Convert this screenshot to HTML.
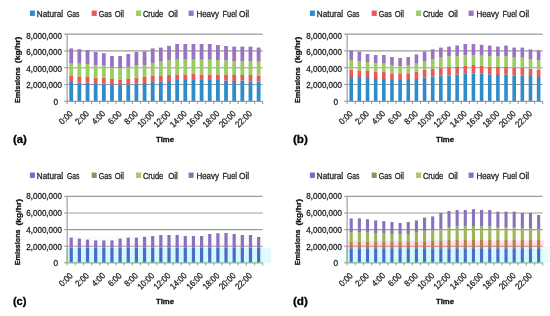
<!DOCTYPE html>
<html lang="en"><head><meta charset="utf-8"><title>Emissions by fuel type</title>
<style>html,body{margin:0;padding:0;background:#fff;}body{width:550px;height:316px;overflow:hidden;}svg{display:block;filter:blur(0.4px);}</style>
</head><body>
<svg width="550" height="316" viewBox="0 0 550 316" font-family='"Liberation Sans", sans-serif'>
<rect width="550" height="316" fill="#fff"/>
<g transform="translate(0 0)">
<line x1="64.15" y1="84.5" x2="67.15" y2="84.5" stroke="#9c9c9c" stroke-width="1.15"/>
<line x1="67.15" y1="84.5" x2="262.7" y2="84.5" stroke="#9c9c9c" stroke-width="1.15"/>
<line x1="64.15" y1="67.7" x2="67.15" y2="67.7" stroke="#9c9c9c" stroke-width="1.15"/>
<line x1="67.15" y1="67.7" x2="262.7" y2="67.7" stroke="#9c9c9c" stroke-width="1.15"/>
<line x1="64.15" y1="50.9" x2="67.15" y2="50.9" stroke="#9c9c9c" stroke-width="1.15"/>
<line x1="67.15" y1="50.9" x2="262.7" y2="50.9" stroke="#9c9c9c" stroke-width="1.15"/>
<line x1="64.15" y1="34.1" x2="67.15" y2="34.1" stroke="#9c9c9c" stroke-width="1.15"/>
<line x1="67.15" y1="34.1" x2="262.7" y2="34.1" stroke="#9c9c9c" stroke-width="1.15"/>
<rect x="69.32" y="82" width="3.8" height="19.3" fill="#2f8ccb"/>
<rect x="69.32" y="76" width="3.8" height="6" fill="#e85a57"/>
<rect x="69.32" y="63.6" width="3.8" height="12.4" fill="#9ccb62"/>
<rect x="69.32" y="48.4" width="3.8" height="15.2" fill="#9b73c3"/>
<rect x="77.47" y="82.6" width="3.8" height="18.7" fill="#2f8ccb"/>
<rect x="77.47" y="76.4" width="3.8" height="6.2" fill="#e85a57"/>
<rect x="77.47" y="63.6" width="3.8" height="12.8" fill="#9ccb62"/>
<rect x="77.47" y="49.2" width="3.8" height="14.4" fill="#9b73c3"/>
<rect x="85.62" y="82.6" width="3.8" height="18.7" fill="#2f8ccb"/>
<rect x="85.62" y="77" width="3.8" height="5.6" fill="#e85a57"/>
<rect x="85.62" y="64" width="3.8" height="13" fill="#9ccb62"/>
<rect x="85.62" y="50" width="3.8" height="14" fill="#9b73c3"/>
<rect x="93.77" y="83.2" width="3.8" height="18.1" fill="#2f8ccb"/>
<rect x="93.77" y="77.6" width="3.8" height="5.6" fill="#e85a57"/>
<rect x="93.77" y="65" width="3.8" height="12.6" fill="#9ccb62"/>
<rect x="93.77" y="52" width="3.8" height="13" fill="#9b73c3"/>
<rect x="101.92" y="83.6" width="3.8" height="17.7" fill="#2f8ccb"/>
<rect x="101.92" y="77.6" width="3.8" height="6" fill="#e85a57"/>
<rect x="101.92" y="65.6" width="3.8" height="12" fill="#9ccb62"/>
<rect x="101.92" y="53.2" width="3.8" height="12.4" fill="#9b73c3"/>
<rect x="110.06" y="84.4" width="3.8" height="16.9" fill="#2f8ccb"/>
<rect x="110.06" y="79" width="3.8" height="5.4" fill="#e85a57"/>
<rect x="110.06" y="67.6" width="3.8" height="11.4" fill="#9ccb62"/>
<rect x="110.06" y="56" width="3.8" height="11.6" fill="#9b73c3"/>
<rect x="118.21" y="84.4" width="3.8" height="16.9" fill="#2f8ccb"/>
<rect x="118.21" y="79.6" width="3.8" height="4.8" fill="#e85a57"/>
<rect x="118.21" y="68" width="3.8" height="11.6" fill="#9ccb62"/>
<rect x="118.21" y="56" width="3.8" height="12" fill="#9b73c3"/>
<rect x="126.36" y="84.4" width="3.8" height="16.9" fill="#2f8ccb"/>
<rect x="126.36" y="79" width="3.8" height="5.4" fill="#e85a57"/>
<rect x="126.36" y="67" width="3.8" height="12" fill="#9ccb62"/>
<rect x="126.36" y="54" width="3.8" height="13" fill="#9b73c3"/>
<rect x="134.51" y="83.6" width="3.8" height="17.7" fill="#2f8ccb"/>
<rect x="134.51" y="77.6" width="3.8" height="6" fill="#e85a57"/>
<rect x="134.51" y="65.6" width="3.8" height="12" fill="#9ccb62"/>
<rect x="134.51" y="52" width="3.8" height="13.6" fill="#9b73c3"/>
<rect x="142.66" y="83" width="3.8" height="18.3" fill="#2f8ccb"/>
<rect x="142.66" y="77" width="3.8" height="6" fill="#e85a57"/>
<rect x="142.66" y="65" width="3.8" height="12" fill="#9ccb62"/>
<rect x="142.66" y="51.4" width="3.8" height="13.6" fill="#9b73c3"/>
<rect x="150.8" y="82" width="3.8" height="19.3" fill="#2f8ccb"/>
<rect x="150.8" y="76" width="3.8" height="6" fill="#e85a57"/>
<rect x="150.8" y="63" width="3.8" height="13" fill="#9ccb62"/>
<rect x="150.8" y="48.4" width="3.8" height="14.6" fill="#9b73c3"/>
<rect x="158.95" y="81.6" width="3.8" height="19.7" fill="#2f8ccb"/>
<rect x="158.95" y="75.4" width="3.8" height="6.2" fill="#e85a57"/>
<rect x="158.95" y="61.6" width="3.8" height="13.8" fill="#9ccb62"/>
<rect x="158.95" y="47.6" width="3.8" height="14" fill="#9b73c3"/>
<rect x="167.1" y="81" width="3.8" height="20.3" fill="#2f8ccb"/>
<rect x="167.1" y="74.7" width="3.8" height="6.3" fill="#e85a57"/>
<rect x="167.1" y="60.2" width="3.8" height="14.5" fill="#9ccb62"/>
<rect x="167.1" y="45.8" width="3.8" height="14.4" fill="#9b73c3"/>
<rect x="175.25" y="80" width="3.8" height="21.3" fill="#2f8ccb"/>
<rect x="175.25" y="74.4" width="3.8" height="5.6" fill="#e85a57"/>
<rect x="175.25" y="59.6" width="3.8" height="14.8" fill="#9ccb62"/>
<rect x="175.25" y="44" width="3.8" height="15.6" fill="#9b73c3"/>
<rect x="183.39" y="80" width="3.8" height="21.3" fill="#2f8ccb"/>
<rect x="183.39" y="74.4" width="3.8" height="5.6" fill="#e85a57"/>
<rect x="183.39" y="59.6" width="3.8" height="14.8" fill="#9ccb62"/>
<rect x="183.39" y="44" width="3.8" height="15.6" fill="#9b73c3"/>
<rect x="191.54" y="80" width="3.8" height="21.3" fill="#2f8ccb"/>
<rect x="191.54" y="73.6" width="3.8" height="6.4" fill="#e85a57"/>
<rect x="191.54" y="59.6" width="3.8" height="14" fill="#9ccb62"/>
<rect x="191.54" y="44" width="3.8" height="15.6" fill="#9b73c3"/>
<rect x="199.69" y="80" width="3.8" height="21.3" fill="#2f8ccb"/>
<rect x="199.69" y="74.4" width="3.8" height="5.6" fill="#e85a57"/>
<rect x="199.69" y="59.6" width="3.8" height="14.8" fill="#9ccb62"/>
<rect x="199.69" y="44" width="3.8" height="15.6" fill="#9b73c3"/>
<rect x="207.84" y="80" width="3.8" height="21.3" fill="#2f8ccb"/>
<rect x="207.84" y="74.4" width="3.8" height="5.6" fill="#e85a57"/>
<rect x="207.84" y="59.6" width="3.8" height="14.8" fill="#9ccb62"/>
<rect x="207.84" y="44" width="3.8" height="15.6" fill="#9b73c3"/>
<rect x="215.99" y="80" width="3.8" height="21.3" fill="#2f8ccb"/>
<rect x="215.99" y="74.4" width="3.8" height="5.6" fill="#e85a57"/>
<rect x="215.99" y="60" width="3.8" height="14.4" fill="#9ccb62"/>
<rect x="215.99" y="45" width="3.8" height="15" fill="#9b73c3"/>
<rect x="224.13" y="80.6" width="3.8" height="20.7" fill="#2f8ccb"/>
<rect x="224.13" y="74.4" width="3.8" height="6.2" fill="#e85a57"/>
<rect x="224.13" y="60.4" width="3.8" height="14" fill="#9ccb62"/>
<rect x="224.13" y="46" width="3.8" height="14.4" fill="#9b73c3"/>
<rect x="232.28" y="81" width="3.8" height="20.3" fill="#2f8ccb"/>
<rect x="232.28" y="75" width="3.8" height="6" fill="#e85a57"/>
<rect x="232.28" y="61" width="3.8" height="14" fill="#9ccb62"/>
<rect x="232.28" y="46.6" width="3.8" height="14.4" fill="#9b73c3"/>
<rect x="240.43" y="80.6" width="3.8" height="20.7" fill="#2f8ccb"/>
<rect x="240.43" y="75" width="3.8" height="5.6" fill="#e85a57"/>
<rect x="240.43" y="61" width="3.8" height="14" fill="#9ccb62"/>
<rect x="240.43" y="46.6" width="3.8" height="14.4" fill="#9b73c3"/>
<rect x="248.58" y="81.4" width="3.8" height="19.9" fill="#2f8ccb"/>
<rect x="248.58" y="75" width="3.8" height="6.4" fill="#e85a57"/>
<rect x="248.58" y="61" width="3.8" height="14" fill="#9ccb62"/>
<rect x="248.58" y="46.6" width="3.8" height="14.4" fill="#9b73c3"/>
<rect x="256.73" y="81.6" width="3.8" height="19.7" fill="#2f8ccb"/>
<rect x="256.73" y="75.6" width="3.8" height="6" fill="#e85a57"/>
<rect x="256.73" y="61.6" width="3.8" height="14" fill="#9ccb62"/>
<rect x="256.73" y="47.6" width="3.8" height="14" fill="#9b73c3"/>
<line x1="67.15" y1="34.1" x2="67.15" y2="101.3" stroke="#9c9c9c" stroke-width="1.15"/>
<line x1="64.15" y1="101.3" x2="67.15" y2="101.3" stroke="#9c9c9c" stroke-width="1.15"/>
<line x1="67.15" y1="101.3" x2="262.7" y2="101.3" stroke="#9c9c9c" stroke-width="1.15"/>
<line x1="67.15" y1="101.3" x2="67.15" y2="103.9" stroke="#9c9c9c" stroke-width="1.15"/>
<line x1="75.3" y1="101.3" x2="75.3" y2="103.9" stroke="#9c9c9c" stroke-width="1.15"/>
<line x1="83.45" y1="101.3" x2="83.45" y2="103.9" stroke="#9c9c9c" stroke-width="1.15"/>
<line x1="91.59" y1="101.3" x2="91.59" y2="103.9" stroke="#9c9c9c" stroke-width="1.15"/>
<line x1="99.74" y1="101.3" x2="99.74" y2="103.9" stroke="#9c9c9c" stroke-width="1.15"/>
<line x1="107.89" y1="101.3" x2="107.89" y2="103.9" stroke="#9c9c9c" stroke-width="1.15"/>
<line x1="116.04" y1="101.3" x2="116.04" y2="103.9" stroke="#9c9c9c" stroke-width="1.15"/>
<line x1="124.19" y1="101.3" x2="124.19" y2="103.9" stroke="#9c9c9c" stroke-width="1.15"/>
<line x1="132.33" y1="101.3" x2="132.33" y2="103.9" stroke="#9c9c9c" stroke-width="1.15"/>
<line x1="140.48" y1="101.3" x2="140.48" y2="103.9" stroke="#9c9c9c" stroke-width="1.15"/>
<line x1="148.63" y1="101.3" x2="148.63" y2="103.9" stroke="#9c9c9c" stroke-width="1.15"/>
<line x1="156.78" y1="101.3" x2="156.78" y2="103.9" stroke="#9c9c9c" stroke-width="1.15"/>
<line x1="164.92" y1="101.3" x2="164.92" y2="103.9" stroke="#9c9c9c" stroke-width="1.15"/>
<line x1="173.07" y1="101.3" x2="173.07" y2="103.9" stroke="#9c9c9c" stroke-width="1.15"/>
<line x1="181.22" y1="101.3" x2="181.22" y2="103.9" stroke="#9c9c9c" stroke-width="1.15"/>
<line x1="189.37" y1="101.3" x2="189.37" y2="103.9" stroke="#9c9c9c" stroke-width="1.15"/>
<line x1="197.52" y1="101.3" x2="197.52" y2="103.9" stroke="#9c9c9c" stroke-width="1.15"/>
<line x1="205.66" y1="101.3" x2="205.66" y2="103.9" stroke="#9c9c9c" stroke-width="1.15"/>
<line x1="213.81" y1="101.3" x2="213.81" y2="103.9" stroke="#9c9c9c" stroke-width="1.15"/>
<line x1="221.96" y1="101.3" x2="221.96" y2="103.9" stroke="#9c9c9c" stroke-width="1.15"/>
<line x1="230.11" y1="101.3" x2="230.11" y2="103.9" stroke="#9c9c9c" stroke-width="1.15"/>
<line x1="238.26" y1="101.3" x2="238.26" y2="103.9" stroke="#9c9c9c" stroke-width="1.15"/>
<line x1="246.4" y1="101.3" x2="246.4" y2="103.9" stroke="#9c9c9c" stroke-width="1.15"/>
<line x1="254.55" y1="101.3" x2="254.55" y2="103.9" stroke="#9c9c9c" stroke-width="1.15"/>
<line x1="262.7" y1="101.3" x2="262.7" y2="103.9" stroke="#9c9c9c" stroke-width="1.15"/>
<text x="58.1" y="104.6" font-size="8.3" text-anchor="end" fill="#242424" stroke="#242424" stroke-width="0.28">0</text>
<text x="62" y="88.11" font-size="8.3" text-anchor="end" textLength="35.7" lengthAdjust="spacingAndGlyphs" fill="#242424" stroke="#242424" stroke-width="0.28">2,000,000</text>
<text x="62" y="71.63" font-size="8.3" text-anchor="end" textLength="35.7" lengthAdjust="spacingAndGlyphs" fill="#242424" stroke="#242424" stroke-width="0.28">4,000,000</text>
<text x="62" y="55.14" font-size="8.3" text-anchor="end" textLength="35.7" lengthAdjust="spacingAndGlyphs" fill="#242424" stroke="#242424" stroke-width="0.28">6,000,000</text>
<text x="62" y="38.65" font-size="8.3" text-anchor="end" textLength="35.7" lengthAdjust="spacingAndGlyphs" fill="#242424" stroke="#242424" stroke-width="0.28">8,000,000</text>
<text x="73.32" y="114.3" font-size="8.8" text-anchor="end" textLength="15.2" lengthAdjust="spacingAndGlyphs" transform="rotate(-45 73.32 114.3)" fill="#242424" stroke="#242424" stroke-width="0.28">0:00</text>
<text x="89.62" y="114.3" font-size="8.8" text-anchor="end" textLength="15.2" lengthAdjust="spacingAndGlyphs" transform="rotate(-45 89.62 114.3)" fill="#242424" stroke="#242424" stroke-width="0.28">2:00</text>
<text x="105.92" y="114.3" font-size="8.8" text-anchor="end" textLength="15.2" lengthAdjust="spacingAndGlyphs" transform="rotate(-45 105.92 114.3)" fill="#242424" stroke="#242424" stroke-width="0.28">4:00</text>
<text x="122.21" y="114.3" font-size="8.8" text-anchor="end" textLength="15.2" lengthAdjust="spacingAndGlyphs" transform="rotate(-45 122.21 114.3)" fill="#242424" stroke="#242424" stroke-width="0.28">6:00</text>
<text x="138.51" y="114.3" font-size="8.8" text-anchor="end" textLength="15.2" lengthAdjust="spacingAndGlyphs" transform="rotate(-45 138.51 114.3)" fill="#242424" stroke="#242424" stroke-width="0.28">8:00</text>
<text x="154.8" y="114.3" font-size="8.8" text-anchor="end" textLength="19.5" lengthAdjust="spacingAndGlyphs" transform="rotate(-45 154.8 114.3)" fill="#242424" stroke="#242424" stroke-width="0.28">10:00</text>
<text x="171.1" y="114.3" font-size="8.8" text-anchor="end" textLength="19.5" lengthAdjust="spacingAndGlyphs" transform="rotate(-45 171.1 114.3)" fill="#242424" stroke="#242424" stroke-width="0.28">12:00</text>
<text x="187.39" y="114.3" font-size="8.8" text-anchor="end" textLength="19.5" lengthAdjust="spacingAndGlyphs" transform="rotate(-45 187.39 114.3)" fill="#242424" stroke="#242424" stroke-width="0.28">14:00</text>
<text x="203.69" y="114.3" font-size="8.8" text-anchor="end" textLength="19.5" lengthAdjust="spacingAndGlyphs" transform="rotate(-45 203.69 114.3)" fill="#242424" stroke="#242424" stroke-width="0.28">16:00</text>
<text x="219.99" y="114.3" font-size="8.8" text-anchor="end" textLength="19.5" lengthAdjust="spacingAndGlyphs" transform="rotate(-45 219.99 114.3)" fill="#242424" stroke="#242424" stroke-width="0.28">18:00</text>
<text x="236.28" y="114.3" font-size="8.8" text-anchor="end" textLength="19.5" lengthAdjust="spacingAndGlyphs" transform="rotate(-45 236.28 114.3)" fill="#242424" stroke="#242424" stroke-width="0.28">20:00</text>
<text x="252.58" y="114.3" font-size="8.8" text-anchor="end" textLength="19.5" lengthAdjust="spacingAndGlyphs" transform="rotate(-45 252.58 114.3)" fill="#242424" stroke="#242424" stroke-width="0.28">22:00</text>
<text x="20.5" y="102.9" font-size="8.1" font-weight="bold" textLength="35.7" lengthAdjust="spacingAndGlyphs" transform="rotate(-90 20.5 102.9)" fill="#111" stroke="#111" stroke-width="0.28">Emissions</text>
<text x="20.5" y="63.2" font-size="8.1" font-weight="bold" textLength="26.6" lengthAdjust="spacingAndGlyphs" transform="rotate(-90 20.5 63.2)" fill="#111" stroke="#111" stroke-width="0.28">(kg/hr)</text>
<text x="156.1" y="142.4" font-size="7.8" font-weight="bold" textLength="17.9" lengthAdjust="spacingAndGlyphs" fill="#111" stroke="#111" stroke-width="0.28">Time</text>
<text x="12.9" y="143" font-size="11.2" font-weight="bold" textLength="14" lengthAdjust="spacingAndGlyphs" fill="#000" stroke="#000" stroke-width="0.28">(a)</text>
<rect x="29.9" y="10.55" width="5" height="5.4" fill="#2f8ccb"/>
<text y="16.5" font-size="8.2" fill="#242424" stroke="#242424" stroke-width="0.28"><tspan x="36.8" textLength="26.4" lengthAdjust="spacingAndGlyphs">Natural</tspan> <tspan x="67" textLength="12.5" lengthAdjust="spacingAndGlyphs">Gas</tspan></text>
<rect x="91.7" y="10.55" width="5" height="5.4" fill="#e85a57"/>
<text y="16.5" font-size="8.2" fill="#242424" stroke="#242424" stroke-width="0.28"><tspan x="98.7" textLength="13.1" lengthAdjust="spacingAndGlyphs">Gas</tspan> <tspan x="114.7" textLength="9.3" lengthAdjust="spacingAndGlyphs">Oil</tspan></text>
<rect x="136.1" y="10.55" width="5" height="5.4" fill="#9ccb62"/>
<text y="16.5" font-size="8.2" fill="#242424" stroke="#242424" stroke-width="0.28"><tspan x="142.9" textLength="20.4" lengthAdjust="spacingAndGlyphs">Crude</tspan> <tspan x="168.2" textLength="9.6" lengthAdjust="spacingAndGlyphs">Oil</tspan></text>
<rect x="188.6" y="10.55" width="5" height="5.4" fill="#9b73c3"/>
<text y="16.5" font-size="8.2" fill="#242424" stroke="#242424" stroke-width="0.28"><tspan x="196.4" textLength="22.7" lengthAdjust="spacingAndGlyphs">Heavy</tspan> <tspan x="222.6" textLength="14.4" lengthAdjust="spacingAndGlyphs">Fuel</tspan> <tspan x="239" textLength="10.2" lengthAdjust="spacingAndGlyphs">Oil</tspan></text>
</g>
<g transform="translate(280 0)">
<line x1="64.15" y1="84.5" x2="67.15" y2="84.5" stroke="#9c9c9c" stroke-width="1.15"/>
<line x1="67.15" y1="84.5" x2="262.7" y2="84.5" stroke="#9c9c9c" stroke-width="1.15"/>
<line x1="64.15" y1="67.7" x2="67.15" y2="67.7" stroke="#9c9c9c" stroke-width="1.15"/>
<line x1="67.15" y1="67.7" x2="262.7" y2="67.7" stroke="#9c9c9c" stroke-width="1.15"/>
<line x1="64.15" y1="50.9" x2="67.15" y2="50.9" stroke="#9c9c9c" stroke-width="1.15"/>
<line x1="67.15" y1="50.9" x2="262.7" y2="50.9" stroke="#9c9c9c" stroke-width="1.15"/>
<line x1="64.15" y1="34.1" x2="67.15" y2="34.1" stroke="#9c9c9c" stroke-width="1.15"/>
<line x1="67.15" y1="34.1" x2="262.7" y2="34.1" stroke="#9c9c9c" stroke-width="1.15"/>
<rect x="69.42" y="77" width="3.6" height="24.3" fill="#2f8ccb"/>
<rect x="69.42" y="69.6" width="3.6" height="7.4" fill="#e85a57"/>
<rect x="69.42" y="60" width="3.6" height="9.6" fill="#9ccb62"/>
<rect x="69.42" y="50.4" width="3.6" height="9.6" fill="#9b73c3"/>
<rect x="77.57" y="77" width="3.6" height="24.3" fill="#2f8ccb"/>
<rect x="77.57" y="70.4" width="3.6" height="6.6" fill="#e85a57"/>
<rect x="77.57" y="61" width="3.6" height="9.4" fill="#9ccb62"/>
<rect x="77.57" y="51.6" width="3.6" height="9.4" fill="#9b73c3"/>
<rect x="85.72" y="78" width="3.6" height="23.3" fill="#2f8ccb"/>
<rect x="85.72" y="71" width="3.6" height="7" fill="#e85a57"/>
<rect x="85.72" y="62" width="3.6" height="9" fill="#9ccb62"/>
<rect x="85.72" y="54" width="3.6" height="8" fill="#9b73c3"/>
<rect x="93.87" y="79" width="3.6" height="22.3" fill="#2f8ccb"/>
<rect x="93.87" y="72" width="3.6" height="7" fill="#e85a57"/>
<rect x="93.87" y="63" width="3.6" height="9" fill="#9ccb62"/>
<rect x="93.87" y="55" width="3.6" height="8" fill="#9b73c3"/>
<rect x="102.02" y="79" width="3.6" height="22.3" fill="#2f8ccb"/>
<rect x="102.02" y="72" width="3.6" height="7" fill="#e85a57"/>
<rect x="102.02" y="63.6" width="3.6" height="8.4" fill="#9ccb62"/>
<rect x="102.02" y="55" width="3.6" height="8.6" fill="#9b73c3"/>
<rect x="110.16" y="80" width="3.6" height="21.3" fill="#2f8ccb"/>
<rect x="110.16" y="73.4" width="3.6" height="6.6" fill="#e85a57"/>
<rect x="110.16" y="65" width="3.6" height="8.4" fill="#9ccb62"/>
<rect x="110.16" y="57" width="3.6" height="8" fill="#9b73c3"/>
<rect x="118.31" y="80" width="3.6" height="21.3" fill="#2f8ccb"/>
<rect x="118.31" y="74" width="3.6" height="6" fill="#e85a57"/>
<rect x="118.31" y="66" width="3.6" height="8" fill="#9ccb62"/>
<rect x="118.31" y="58" width="3.6" height="8" fill="#9b73c3"/>
<rect x="126.46" y="80" width="3.6" height="21.3" fill="#2f8ccb"/>
<rect x="126.46" y="73.4" width="3.6" height="6.6" fill="#e85a57"/>
<rect x="126.46" y="65" width="3.6" height="8.4" fill="#9ccb62"/>
<rect x="126.46" y="57" width="3.6" height="8" fill="#9b73c3"/>
<rect x="134.61" y="79" width="3.6" height="22.3" fill="#2f8ccb"/>
<rect x="134.61" y="71.6" width="3.6" height="7.4" fill="#e85a57"/>
<rect x="134.61" y="63.6" width="3.6" height="8" fill="#9ccb62"/>
<rect x="134.61" y="54.4" width="3.6" height="9.2" fill="#9b73c3"/>
<rect x="142.76" y="77.4" width="3.6" height="23.9" fill="#2f8ccb"/>
<rect x="142.76" y="70" width="3.6" height="7.4" fill="#e85a57"/>
<rect x="142.76" y="61" width="3.6" height="9" fill="#9ccb62"/>
<rect x="142.76" y="51.6" width="3.6" height="9.4" fill="#9b73c3"/>
<rect x="150.9" y="76.4" width="3.6" height="24.9" fill="#2f8ccb"/>
<rect x="150.9" y="69" width="3.6" height="7.4" fill="#e85a57"/>
<rect x="150.9" y="59" width="3.6" height="10" fill="#9ccb62"/>
<rect x="150.9" y="49.4" width="3.6" height="9.6" fill="#9b73c3"/>
<rect x="159.05" y="75.4" width="3.6" height="25.9" fill="#2f8ccb"/>
<rect x="159.05" y="68" width="3.6" height="7.4" fill="#e85a57"/>
<rect x="159.05" y="57.6" width="3.6" height="10.4" fill="#9ccb62"/>
<rect x="159.05" y="47.6" width="3.6" height="10" fill="#9b73c3"/>
<rect x="167.2" y="75.4" width="3.6" height="25.9" fill="#2f8ccb"/>
<rect x="167.2" y="67.2" width="3.6" height="8.2" fill="#e85a57"/>
<rect x="167.2" y="56.4" width="3.6" height="10.8" fill="#9ccb62"/>
<rect x="167.2" y="46.6" width="3.6" height="9.8" fill="#9b73c3"/>
<rect x="175.35" y="74.4" width="3.6" height="26.9" fill="#2f8ccb"/>
<rect x="175.35" y="67" width="3.6" height="7.4" fill="#e85a57"/>
<rect x="175.35" y="56" width="3.6" height="11" fill="#9ccb62"/>
<rect x="175.35" y="45.4" width="3.6" height="10.6" fill="#9b73c3"/>
<rect x="183.49" y="73.6" width="3.6" height="27.7" fill="#2f8ccb"/>
<rect x="183.49" y="66" width="3.6" height="7.6" fill="#e85a57"/>
<rect x="183.49" y="55" width="3.6" height="11" fill="#9ccb62"/>
<rect x="183.49" y="44" width="3.6" height="11" fill="#9b73c3"/>
<rect x="191.64" y="73.6" width="3.6" height="27.7" fill="#2f8ccb"/>
<rect x="191.64" y="65" width="3.6" height="8.6" fill="#e85a57"/>
<rect x="191.64" y="55" width="3.6" height="10" fill="#9ccb62"/>
<rect x="191.64" y="44" width="3.6" height="11" fill="#9b73c3"/>
<rect x="199.79" y="73.6" width="3.6" height="27.7" fill="#2f8ccb"/>
<rect x="199.79" y="66" width="3.6" height="7.6" fill="#e85a57"/>
<rect x="199.79" y="55.6" width="3.6" height="10.4" fill="#9ccb62"/>
<rect x="199.79" y="44.8" width="3.6" height="10.8" fill="#9b73c3"/>
<rect x="207.94" y="74.4" width="3.6" height="26.9" fill="#2f8ccb"/>
<rect x="207.94" y="66.6" width="3.6" height="7.8" fill="#e85a57"/>
<rect x="207.94" y="56" width="3.6" height="10.6" fill="#9ccb62"/>
<rect x="207.94" y="45.6" width="3.6" height="10.4" fill="#9b73c3"/>
<rect x="216.09" y="75" width="3.6" height="26.3" fill="#2f8ccb"/>
<rect x="216.09" y="67" width="3.6" height="8" fill="#e85a57"/>
<rect x="216.09" y="56.4" width="3.6" height="10.6" fill="#9ccb62"/>
<rect x="216.09" y="46.6" width="3.6" height="9.8" fill="#9b73c3"/>
<rect x="224.23" y="74.4" width="3.6" height="26.9" fill="#2f8ccb"/>
<rect x="224.23" y="67" width="3.6" height="7.4" fill="#e85a57"/>
<rect x="224.23" y="56" width="3.6" height="11" fill="#9ccb62"/>
<rect x="224.23" y="45.6" width="3.6" height="10.4" fill="#9b73c3"/>
<rect x="232.38" y="75.4" width="3.6" height="25.9" fill="#2f8ccb"/>
<rect x="232.38" y="67.6" width="3.6" height="7.8" fill="#e85a57"/>
<rect x="232.38" y="57.6" width="3.6" height="10" fill="#9ccb62"/>
<rect x="232.38" y="47.6" width="3.6" height="10" fill="#9b73c3"/>
<rect x="240.53" y="75.4" width="3.6" height="25.9" fill="#2f8ccb"/>
<rect x="240.53" y="67.6" width="3.6" height="7.8" fill="#e85a57"/>
<rect x="240.53" y="57.6" width="3.6" height="10" fill="#9ccb62"/>
<rect x="240.53" y="47.6" width="3.6" height="10" fill="#9b73c3"/>
<rect x="248.68" y="76" width="3.6" height="25.3" fill="#2f8ccb"/>
<rect x="248.68" y="68.6" width="3.6" height="7.4" fill="#e85a57"/>
<rect x="248.68" y="59" width="3.6" height="9.6" fill="#9ccb62"/>
<rect x="248.68" y="49.4" width="3.6" height="9.6" fill="#9b73c3"/>
<rect x="256.83" y="77" width="3.6" height="24.3" fill="#2f8ccb"/>
<rect x="256.83" y="69.6" width="3.6" height="7.4" fill="#e85a57"/>
<rect x="256.83" y="60" width="3.6" height="9.6" fill="#9ccb62"/>
<rect x="256.83" y="50.4" width="3.6" height="9.6" fill="#9b73c3"/>
<line x1="67.15" y1="34.1" x2="67.15" y2="101.3" stroke="#9c9c9c" stroke-width="1.15"/>
<line x1="64.15" y1="101.3" x2="67.15" y2="101.3" stroke="#9c9c9c" stroke-width="1.15"/>
<line x1="67.15" y1="101.3" x2="262.7" y2="101.3" stroke="#9c9c9c" stroke-width="1.15"/>
<line x1="67.15" y1="101.3" x2="67.15" y2="103.9" stroke="#9c9c9c" stroke-width="1.15"/>
<line x1="75.3" y1="101.3" x2="75.3" y2="103.9" stroke="#9c9c9c" stroke-width="1.15"/>
<line x1="83.45" y1="101.3" x2="83.45" y2="103.9" stroke="#9c9c9c" stroke-width="1.15"/>
<line x1="91.59" y1="101.3" x2="91.59" y2="103.9" stroke="#9c9c9c" stroke-width="1.15"/>
<line x1="99.74" y1="101.3" x2="99.74" y2="103.9" stroke="#9c9c9c" stroke-width="1.15"/>
<line x1="107.89" y1="101.3" x2="107.89" y2="103.9" stroke="#9c9c9c" stroke-width="1.15"/>
<line x1="116.04" y1="101.3" x2="116.04" y2="103.9" stroke="#9c9c9c" stroke-width="1.15"/>
<line x1="124.19" y1="101.3" x2="124.19" y2="103.9" stroke="#9c9c9c" stroke-width="1.15"/>
<line x1="132.33" y1="101.3" x2="132.33" y2="103.9" stroke="#9c9c9c" stroke-width="1.15"/>
<line x1="140.48" y1="101.3" x2="140.48" y2="103.9" stroke="#9c9c9c" stroke-width="1.15"/>
<line x1="148.63" y1="101.3" x2="148.63" y2="103.9" stroke="#9c9c9c" stroke-width="1.15"/>
<line x1="156.78" y1="101.3" x2="156.78" y2="103.9" stroke="#9c9c9c" stroke-width="1.15"/>
<line x1="164.92" y1="101.3" x2="164.92" y2="103.9" stroke="#9c9c9c" stroke-width="1.15"/>
<line x1="173.07" y1="101.3" x2="173.07" y2="103.9" stroke="#9c9c9c" stroke-width="1.15"/>
<line x1="181.22" y1="101.3" x2="181.22" y2="103.9" stroke="#9c9c9c" stroke-width="1.15"/>
<line x1="189.37" y1="101.3" x2="189.37" y2="103.9" stroke="#9c9c9c" stroke-width="1.15"/>
<line x1="197.52" y1="101.3" x2="197.52" y2="103.9" stroke="#9c9c9c" stroke-width="1.15"/>
<line x1="205.66" y1="101.3" x2="205.66" y2="103.9" stroke="#9c9c9c" stroke-width="1.15"/>
<line x1="213.81" y1="101.3" x2="213.81" y2="103.9" stroke="#9c9c9c" stroke-width="1.15"/>
<line x1="221.96" y1="101.3" x2="221.96" y2="103.9" stroke="#9c9c9c" stroke-width="1.15"/>
<line x1="230.11" y1="101.3" x2="230.11" y2="103.9" stroke="#9c9c9c" stroke-width="1.15"/>
<line x1="238.26" y1="101.3" x2="238.26" y2="103.9" stroke="#9c9c9c" stroke-width="1.15"/>
<line x1="246.4" y1="101.3" x2="246.4" y2="103.9" stroke="#9c9c9c" stroke-width="1.15"/>
<line x1="254.55" y1="101.3" x2="254.55" y2="103.9" stroke="#9c9c9c" stroke-width="1.15"/>
<line x1="262.7" y1="101.3" x2="262.7" y2="103.9" stroke="#9c9c9c" stroke-width="1.15"/>
<text x="58.1" y="104.6" font-size="8.3" text-anchor="end" fill="#242424" stroke="#242424" stroke-width="0.28">0</text>
<text x="62" y="88.11" font-size="8.3" text-anchor="end" textLength="35.7" lengthAdjust="spacingAndGlyphs" fill="#242424" stroke="#242424" stroke-width="0.28">2,000,000</text>
<text x="62" y="71.63" font-size="8.3" text-anchor="end" textLength="35.7" lengthAdjust="spacingAndGlyphs" fill="#242424" stroke="#242424" stroke-width="0.28">4,000,000</text>
<text x="62" y="55.14" font-size="8.3" text-anchor="end" textLength="35.7" lengthAdjust="spacingAndGlyphs" fill="#242424" stroke="#242424" stroke-width="0.28">6,000,000</text>
<text x="62" y="38.65" font-size="8.3" text-anchor="end" textLength="35.7" lengthAdjust="spacingAndGlyphs" fill="#242424" stroke="#242424" stroke-width="0.28">8,000,000</text>
<text x="73.32" y="114.3" font-size="8.8" text-anchor="end" textLength="15.2" lengthAdjust="spacingAndGlyphs" transform="rotate(-45 73.32 114.3)" fill="#242424" stroke="#242424" stroke-width="0.28">0:00</text>
<text x="89.62" y="114.3" font-size="8.8" text-anchor="end" textLength="15.2" lengthAdjust="spacingAndGlyphs" transform="rotate(-45 89.62 114.3)" fill="#242424" stroke="#242424" stroke-width="0.28">2:00</text>
<text x="105.92" y="114.3" font-size="8.8" text-anchor="end" textLength="15.2" lengthAdjust="spacingAndGlyphs" transform="rotate(-45 105.92 114.3)" fill="#242424" stroke="#242424" stroke-width="0.28">4:00</text>
<text x="122.21" y="114.3" font-size="8.8" text-anchor="end" textLength="15.2" lengthAdjust="spacingAndGlyphs" transform="rotate(-45 122.21 114.3)" fill="#242424" stroke="#242424" stroke-width="0.28">6:00</text>
<text x="138.51" y="114.3" font-size="8.8" text-anchor="end" textLength="15.2" lengthAdjust="spacingAndGlyphs" transform="rotate(-45 138.51 114.3)" fill="#242424" stroke="#242424" stroke-width="0.28">8:00</text>
<text x="154.8" y="114.3" font-size="8.8" text-anchor="end" textLength="19.5" lengthAdjust="spacingAndGlyphs" transform="rotate(-45 154.8 114.3)" fill="#242424" stroke="#242424" stroke-width="0.28">10:00</text>
<text x="171.1" y="114.3" font-size="8.8" text-anchor="end" textLength="19.5" lengthAdjust="spacingAndGlyphs" transform="rotate(-45 171.1 114.3)" fill="#242424" stroke="#242424" stroke-width="0.28">12:00</text>
<text x="187.39" y="114.3" font-size="8.8" text-anchor="end" textLength="19.5" lengthAdjust="spacingAndGlyphs" transform="rotate(-45 187.39 114.3)" fill="#242424" stroke="#242424" stroke-width="0.28">14:00</text>
<text x="203.69" y="114.3" font-size="8.8" text-anchor="end" textLength="19.5" lengthAdjust="spacingAndGlyphs" transform="rotate(-45 203.69 114.3)" fill="#242424" stroke="#242424" stroke-width="0.28">16:00</text>
<text x="219.99" y="114.3" font-size="8.8" text-anchor="end" textLength="19.5" lengthAdjust="spacingAndGlyphs" transform="rotate(-45 219.99 114.3)" fill="#242424" stroke="#242424" stroke-width="0.28">18:00</text>
<text x="236.28" y="114.3" font-size="8.8" text-anchor="end" textLength="19.5" lengthAdjust="spacingAndGlyphs" transform="rotate(-45 236.28 114.3)" fill="#242424" stroke="#242424" stroke-width="0.28">20:00</text>
<text x="252.58" y="114.3" font-size="8.8" text-anchor="end" textLength="19.5" lengthAdjust="spacingAndGlyphs" transform="rotate(-45 252.58 114.3)" fill="#242424" stroke="#242424" stroke-width="0.28">22:00</text>
<text x="20.5" y="102.9" font-size="8.1" font-weight="bold" textLength="35.7" lengthAdjust="spacingAndGlyphs" transform="rotate(-90 20.5 102.9)" fill="#111" stroke="#111" stroke-width="0.28">Emissions</text>
<text x="20.5" y="63.2" font-size="8.1" font-weight="bold" textLength="26.6" lengthAdjust="spacingAndGlyphs" transform="rotate(-90 20.5 63.2)" fill="#111" stroke="#111" stroke-width="0.28">(kg/hr)</text>
<text x="156.1" y="142.4" font-size="7.8" font-weight="bold" textLength="17.9" lengthAdjust="spacingAndGlyphs" fill="#111" stroke="#111" stroke-width="0.28">Time</text>
<text x="12.9" y="143" font-size="11.2" font-weight="bold" textLength="15" lengthAdjust="spacingAndGlyphs" fill="#000" stroke="#000" stroke-width="0.28">(b)</text>
<rect x="29.9" y="10.55" width="5" height="5.4" fill="#2f8ccb"/>
<text y="16.5" font-size="8.2" fill="#242424" stroke="#242424" stroke-width="0.28"><tspan x="36.8" textLength="26.4" lengthAdjust="spacingAndGlyphs">Natural</tspan> <tspan x="67" textLength="12.5" lengthAdjust="spacingAndGlyphs">Gas</tspan></text>
<rect x="91.7" y="10.55" width="5" height="5.4" fill="#e85a57"/>
<text y="16.5" font-size="8.2" fill="#242424" stroke="#242424" stroke-width="0.28"><tspan x="98.7" textLength="13.1" lengthAdjust="spacingAndGlyphs">Gas</tspan> <tspan x="114.7" textLength="9.3" lengthAdjust="spacingAndGlyphs">Oil</tspan></text>
<rect x="136.1" y="10.55" width="5" height="5.4" fill="#9ccb62"/>
<text y="16.5" font-size="8.2" fill="#242424" stroke="#242424" stroke-width="0.28"><tspan x="142.9" textLength="20.4" lengthAdjust="spacingAndGlyphs">Crude</tspan> <tspan x="168.2" textLength="9.6" lengthAdjust="spacingAndGlyphs">Oil</tspan></text>
<rect x="188.6" y="10.55" width="5" height="5.4" fill="#9b73c3"/>
<text y="16.5" font-size="8.2" fill="#242424" stroke="#242424" stroke-width="0.28"><tspan x="196.4" textLength="22.7" lengthAdjust="spacingAndGlyphs">Heavy</tspan> <tspan x="222.6" textLength="14.4" lengthAdjust="spacingAndGlyphs">Fuel</tspan> <tspan x="239" textLength="10.2" lengthAdjust="spacingAndGlyphs">Oil</tspan></text>
</g>
<g transform="translate(0 162)">
<rect x="67.15" y="85.7" width="195.55" height="15.1" fill="#d4f8fc"/>
<rect x="262.7" y="85.7" width="8.5" height="15.1" fill="#e2fafd"/>
<rect x="67.15" y="74" width="195.55" height="11.7" fill="#fdf9fd"/>
<line x1="64.15" y1="84.2" x2="67.15" y2="84.2" stroke="#9c9c9c" stroke-width="1.15"/>
<line x1="67.15" y1="84.2" x2="262.7" y2="84.2" stroke="#b39a9a" stroke-width="1.15"/>
<line x1="64.15" y1="67.6" x2="67.15" y2="67.6" stroke="#9c9c9c" stroke-width="1.15"/>
<line x1="67.15" y1="67.6" x2="262.7" y2="67.6" stroke="#9c9c9c" stroke-width="1.15"/>
<line x1="64.15" y1="51" x2="67.15" y2="51" stroke="#9c9c9c" stroke-width="1.15"/>
<line x1="67.15" y1="51" x2="262.7" y2="51" stroke="#9c9c9c" stroke-width="1.15"/>
<line x1="64.15" y1="34.4" x2="67.15" y2="34.4" stroke="#9c9c9c" stroke-width="1.15"/>
<line x1="67.15" y1="34.4" x2="262.7" y2="34.4" stroke="#9c9c9c" stroke-width="1.15"/>
<rect x="69.62" y="85.4" width="3.2" height="15.4" fill="#4c6ac8"/>
<rect x="69.62" y="75.6" width="3.2" height="9.8" fill="#8873bb"/>
<rect x="77.77" y="85.4" width="3.2" height="15.4" fill="#4c6ac8"/>
<rect x="77.77" y="76.6" width="3.2" height="8.8" fill="#8873bb"/>
<rect x="85.92" y="85.4" width="3.2" height="15.4" fill="#4c6ac8"/>
<rect x="85.92" y="77.6" width="3.2" height="7.8" fill="#8873bb"/>
<rect x="94.07" y="85.4" width="3.2" height="15.4" fill="#4c6ac8"/>
<rect x="94.07" y="78.4" width="3.2" height="7" fill="#8873bb"/>
<rect x="102.22" y="85.4" width="3.2" height="15.4" fill="#4c6ac8"/>
<rect x="102.22" y="78.4" width="3.2" height="7" fill="#8873bb"/>
<rect x="110.36" y="85.4" width="3.2" height="15.4" fill="#4c6ac8"/>
<rect x="110.36" y="78.4" width="3.2" height="7" fill="#8873bb"/>
<rect x="118.51" y="85.4" width="3.2" height="15.4" fill="#4c6ac8"/>
<rect x="118.51" y="76.6" width="3.2" height="8.8" fill="#8873bb"/>
<rect x="126.66" y="85.4" width="3.2" height="15.4" fill="#4c6ac8"/>
<rect x="126.66" y="75.6" width="3.2" height="9.8" fill="#8873bb"/>
<rect x="134.81" y="85.4" width="3.2" height="15.4" fill="#4c6ac8"/>
<rect x="134.81" y="75.6" width="3.2" height="9.8" fill="#8873bb"/>
<rect x="142.96" y="85.4" width="3.2" height="15.4" fill="#4c6ac8"/>
<rect x="142.96" y="74.8" width="3.2" height="10.6" fill="#8873bb"/>
<rect x="151.1" y="85.4" width="3.2" height="15.4" fill="#4c6ac8"/>
<rect x="151.1" y="74" width="3.2" height="11.4" fill="#8873bb"/>
<rect x="159.25" y="85.4" width="3.2" height="15.4" fill="#4c6ac8"/>
<rect x="159.25" y="73" width="3.2" height="12.4" fill="#8873bb"/>
<rect x="167.4" y="85.4" width="3.2" height="15.4" fill="#4c6ac8"/>
<rect x="167.4" y="73" width="3.2" height="12.4" fill="#8873bb"/>
<rect x="175.55" y="85.4" width="3.2" height="15.4" fill="#4c6ac8"/>
<rect x="175.55" y="73" width="3.2" height="12.4" fill="#8873bb"/>
<rect x="183.69" y="85.4" width="3.2" height="15.4" fill="#4c6ac8"/>
<rect x="183.69" y="74" width="3.2" height="11.4" fill="#8873bb"/>
<rect x="191.84" y="85.4" width="3.2" height="15.4" fill="#4c6ac8"/>
<rect x="191.84" y="74" width="3.2" height="11.4" fill="#8873bb"/>
<rect x="199.99" y="85.4" width="3.2" height="15.4" fill="#4c6ac8"/>
<rect x="199.99" y="74" width="3.2" height="11.4" fill="#8873bb"/>
<rect x="208.14" y="85.4" width="3.2" height="15.4" fill="#4c6ac8"/>
<rect x="208.14" y="72" width="3.2" height="13.4" fill="#8873bb"/>
<rect x="216.29" y="85.4" width="3.2" height="15.4" fill="#4c6ac8"/>
<rect x="216.29" y="71.2" width="3.2" height="14.2" fill="#8873bb"/>
<rect x="224.43" y="85.4" width="3.2" height="15.4" fill="#4c6ac8"/>
<rect x="224.43" y="71" width="3.2" height="14.4" fill="#8873bb"/>
<rect x="232.58" y="85.4" width="3.2" height="15.4" fill="#4c6ac8"/>
<rect x="232.58" y="72" width="3.2" height="13.4" fill="#8873bb"/>
<rect x="240.73" y="85.4" width="3.2" height="15.4" fill="#4c6ac8"/>
<rect x="240.73" y="73" width="3.2" height="12.4" fill="#8873bb"/>
<rect x="248.88" y="85.4" width="3.2" height="15.4" fill="#4c6ac8"/>
<rect x="248.88" y="73" width="3.2" height="12.4" fill="#8873bb"/>
<rect x="257.03" y="85.4" width="3.2" height="15.4" fill="#4c6ac8"/>
<rect x="257.03" y="75" width="3.2" height="10.4" fill="#8873bb"/>
<line x1="67.15" y1="34.4" x2="67.15" y2="100.8" stroke="#9c9c9c" stroke-width="1.15"/>
<line x1="64.15" y1="100.8" x2="67.15" y2="100.8" stroke="#9c9c9c" stroke-width="1.15"/>
<line x1="67.15" y1="100.8" x2="262.7" y2="100.8" stroke="#7fbf9a" stroke-width="1.15"/>
<line x1="67.15" y1="85.7" x2="67.15" y2="100.8" stroke="#7fbf9a" stroke-width="1.15"/>
<line x1="67.15" y1="100.8" x2="67.15" y2="103.4" stroke="#8fa89a" stroke-width="1.15"/>
<line x1="75.3" y1="100.8" x2="75.3" y2="103.4" stroke="#8fa89a" stroke-width="1.15"/>
<line x1="83.45" y1="100.8" x2="83.45" y2="103.4" stroke="#8fa89a" stroke-width="1.15"/>
<line x1="91.59" y1="100.8" x2="91.59" y2="103.4" stroke="#8fa89a" stroke-width="1.15"/>
<line x1="99.74" y1="100.8" x2="99.74" y2="103.4" stroke="#8fa89a" stroke-width="1.15"/>
<line x1="107.89" y1="100.8" x2="107.89" y2="103.4" stroke="#8fa89a" stroke-width="1.15"/>
<line x1="116.04" y1="100.8" x2="116.04" y2="103.4" stroke="#8fa89a" stroke-width="1.15"/>
<line x1="124.19" y1="100.8" x2="124.19" y2="103.4" stroke="#8fa89a" stroke-width="1.15"/>
<line x1="132.33" y1="100.8" x2="132.33" y2="103.4" stroke="#8fa89a" stroke-width="1.15"/>
<line x1="140.48" y1="100.8" x2="140.48" y2="103.4" stroke="#8fa89a" stroke-width="1.15"/>
<line x1="148.63" y1="100.8" x2="148.63" y2="103.4" stroke="#8fa89a" stroke-width="1.15"/>
<line x1="156.78" y1="100.8" x2="156.78" y2="103.4" stroke="#8fa89a" stroke-width="1.15"/>
<line x1="164.92" y1="100.8" x2="164.92" y2="103.4" stroke="#8fa89a" stroke-width="1.15"/>
<line x1="173.07" y1="100.8" x2="173.07" y2="103.4" stroke="#8fa89a" stroke-width="1.15"/>
<line x1="181.22" y1="100.8" x2="181.22" y2="103.4" stroke="#8fa89a" stroke-width="1.15"/>
<line x1="189.37" y1="100.8" x2="189.37" y2="103.4" stroke="#8fa89a" stroke-width="1.15"/>
<line x1="197.52" y1="100.8" x2="197.52" y2="103.4" stroke="#8fa89a" stroke-width="1.15"/>
<line x1="205.66" y1="100.8" x2="205.66" y2="103.4" stroke="#8fa89a" stroke-width="1.15"/>
<line x1="213.81" y1="100.8" x2="213.81" y2="103.4" stroke="#8fa89a" stroke-width="1.15"/>
<line x1="221.96" y1="100.8" x2="221.96" y2="103.4" stroke="#8fa89a" stroke-width="1.15"/>
<line x1="230.11" y1="100.8" x2="230.11" y2="103.4" stroke="#8fa89a" stroke-width="1.15"/>
<line x1="238.26" y1="100.8" x2="238.26" y2="103.4" stroke="#8fa89a" stroke-width="1.15"/>
<line x1="246.4" y1="100.8" x2="246.4" y2="103.4" stroke="#8fa89a" stroke-width="1.15"/>
<line x1="254.55" y1="100.8" x2="254.55" y2="103.4" stroke="#8fa89a" stroke-width="1.15"/>
<line x1="262.7" y1="100.8" x2="262.7" y2="103.4" stroke="#8fa89a" stroke-width="1.15"/>
<text x="58.1" y="104.35" font-size="8.3" text-anchor="end" fill="#242424" stroke="#242424" stroke-width="0.28">0</text>
<text x="62" y="87.6" font-size="8.3" text-anchor="end" textLength="35.7" lengthAdjust="spacingAndGlyphs" fill="#242424" stroke="#242424" stroke-width="0.28">2,000,000</text>
<text x="62" y="70.85" font-size="8.3" text-anchor="end" textLength="35.7" lengthAdjust="spacingAndGlyphs" fill="#242424" stroke="#242424" stroke-width="0.28">4,000,000</text>
<text x="62" y="54.1" font-size="8.3" text-anchor="end" textLength="35.7" lengthAdjust="spacingAndGlyphs" fill="#242424" stroke="#242424" stroke-width="0.28">6,000,000</text>
<text x="62" y="37.35" font-size="8.3" text-anchor="end" textLength="35.7" lengthAdjust="spacingAndGlyphs" fill="#242424" stroke="#242424" stroke-width="0.28">8,000,000</text>
<text x="73.32" y="114.3" font-size="8.8" text-anchor="end" textLength="15.2" lengthAdjust="spacingAndGlyphs" transform="rotate(-45 73.32 114.3)" fill="#242424" stroke="#242424" stroke-width="0.28">0:00</text>
<text x="89.62" y="114.3" font-size="8.8" text-anchor="end" textLength="15.2" lengthAdjust="spacingAndGlyphs" transform="rotate(-45 89.62 114.3)" fill="#242424" stroke="#242424" stroke-width="0.28">2:00</text>
<text x="105.92" y="114.3" font-size="8.8" text-anchor="end" textLength="15.2" lengthAdjust="spacingAndGlyphs" transform="rotate(-45 105.92 114.3)" fill="#242424" stroke="#242424" stroke-width="0.28">4:00</text>
<text x="122.21" y="114.3" font-size="8.8" text-anchor="end" textLength="15.2" lengthAdjust="spacingAndGlyphs" transform="rotate(-45 122.21 114.3)" fill="#242424" stroke="#242424" stroke-width="0.28">6:00</text>
<text x="138.51" y="114.3" font-size="8.8" text-anchor="end" textLength="15.2" lengthAdjust="spacingAndGlyphs" transform="rotate(-45 138.51 114.3)" fill="#242424" stroke="#242424" stroke-width="0.28">8:00</text>
<text x="154.8" y="114.3" font-size="8.8" text-anchor="end" textLength="19.5" lengthAdjust="spacingAndGlyphs" transform="rotate(-45 154.8 114.3)" fill="#242424" stroke="#242424" stroke-width="0.28">10:00</text>
<text x="171.1" y="114.3" font-size="8.8" text-anchor="end" textLength="19.5" lengthAdjust="spacingAndGlyphs" transform="rotate(-45 171.1 114.3)" fill="#242424" stroke="#242424" stroke-width="0.28">12:00</text>
<text x="187.39" y="114.3" font-size="8.8" text-anchor="end" textLength="19.5" lengthAdjust="spacingAndGlyphs" transform="rotate(-45 187.39 114.3)" fill="#242424" stroke="#242424" stroke-width="0.28">14:00</text>
<text x="203.69" y="114.3" font-size="8.8" text-anchor="end" textLength="19.5" lengthAdjust="spacingAndGlyphs" transform="rotate(-45 203.69 114.3)" fill="#242424" stroke="#242424" stroke-width="0.28">16:00</text>
<text x="219.99" y="114.3" font-size="8.8" text-anchor="end" textLength="19.5" lengthAdjust="spacingAndGlyphs" transform="rotate(-45 219.99 114.3)" fill="#242424" stroke="#242424" stroke-width="0.28">18:00</text>
<text x="236.28" y="114.3" font-size="8.8" text-anchor="end" textLength="19.5" lengthAdjust="spacingAndGlyphs" transform="rotate(-45 236.28 114.3)" fill="#242424" stroke="#242424" stroke-width="0.28">20:00</text>
<text x="252.58" y="114.3" font-size="8.8" text-anchor="end" textLength="19.5" lengthAdjust="spacingAndGlyphs" transform="rotate(-45 252.58 114.3)" fill="#242424" stroke="#242424" stroke-width="0.28">22:00</text>
<text x="20.5" y="103.2" font-size="8.1" font-weight="bold" textLength="35.7" lengthAdjust="spacingAndGlyphs" transform="rotate(-90 20.5 103.2)" fill="#111" stroke="#111" stroke-width="0.28">Emissions</text>
<text x="20.5" y="63.5" font-size="8.1" font-weight="bold" textLength="26.6" lengthAdjust="spacingAndGlyphs" transform="rotate(-90 20.5 63.5)" fill="#111" stroke="#111" stroke-width="0.28">(kg/hr)</text>
<text x="156.1" y="142.4" font-size="7.8" font-weight="bold" textLength="17.9" lengthAdjust="spacingAndGlyphs" fill="#111" stroke="#111" stroke-width="0.28">Time</text>
<text x="12.9" y="143" font-size="11.2" font-weight="bold" textLength="13.6" lengthAdjust="spacingAndGlyphs" fill="#000" stroke="#000" stroke-width="0.28">(c)</text>
<rect x="29.9" y="10.55" width="5" height="5.4" fill="#6a6fd0"/>
<text y="16.5" font-size="8.2" fill="#242424" stroke="#242424" stroke-width="0.28"><tspan x="36.8" textLength="26.4" lengthAdjust="spacingAndGlyphs">Natural</tspan> <tspan x="67" textLength="12.5" lengthAdjust="spacingAndGlyphs">Gas</tspan></text>
<rect x="91.7" y="10.55" width="5" height="5.4" fill="#9c8a5c"/>
<text y="16.5" font-size="8.2" fill="#242424" stroke="#242424" stroke-width="0.28"><tspan x="98.7" textLength="13.1" lengthAdjust="spacingAndGlyphs">Gas</tspan> <tspan x="114.7" textLength="9.3" lengthAdjust="spacingAndGlyphs">Oil</tspan></text>
<rect x="136.1" y="10.55" width="5" height="5.4" fill="#a8c860"/>
<text y="16.5" font-size="8.2" fill="#242424" stroke="#242424" stroke-width="0.28"><tspan x="142.9" textLength="20.4" lengthAdjust="spacingAndGlyphs">Crude</tspan> <tspan x="168.2" textLength="9.6" lengthAdjust="spacingAndGlyphs">Oil</tspan></text>
<rect x="188.6" y="10.55" width="5" height="5.4" fill="#8c70c0"/>
<text y="16.5" font-size="8.2" fill="#242424" stroke="#242424" stroke-width="0.28"><tspan x="196.4" textLength="22.7" lengthAdjust="spacingAndGlyphs">Heavy</tspan> <tspan x="222.6" textLength="14.4" lengthAdjust="spacingAndGlyphs">Fuel</tspan> <tspan x="239" textLength="10.2" lengthAdjust="spacingAndGlyphs">Oil</tspan></text>
</g>
<g transform="translate(280 162)">
<rect x="56.15" y="85.1" width="11" height="15.7" fill="#f5fdfe"/>
<rect x="262.7" y="85.1" width="8" height="15.7" fill="#e9fbfd"/>
<rect x="67.15" y="85.1" width="195.55" height="15.7" fill="#d6f8fc"/>
<rect x="67.15" y="78.2" width="197.05" height="6.9" fill="#fde3e9"/>
<rect x="67.15" y="67.6" width="195.55" height="10.6" fill="#fbfcf3"/>
<line x1="64.15" y1="84.2" x2="67.15" y2="84.2" stroke="#9c9c9c" stroke-width="1.15"/>
<line x1="67.15" y1="84.2" x2="262.7" y2="84.2" stroke="#e37b7b" stroke-width="1.15"/>
<line x1="64.15" y1="67.6" x2="67.15" y2="67.6" stroke="#9c9c9c" stroke-width="1.15"/>
<line x1="67.15" y1="67.6" x2="262.7" y2="67.6" stroke="#9c9c9c" stroke-width="1.15"/>
<line x1="64.15" y1="51" x2="67.15" y2="51" stroke="#9c9c9c" stroke-width="1.15"/>
<line x1="67.15" y1="51" x2="262.7" y2="51" stroke="#9c9c9c" stroke-width="1.15"/>
<line x1="64.15" y1="34.4" x2="67.15" y2="34.4" stroke="#9c9c9c" stroke-width="1.15"/>
<line x1="67.15" y1="34.4" x2="262.7" y2="34.4" stroke="#9c9c9c" stroke-width="1.15"/>
<rect x="69.67" y="86.2" width="3.1" height="14.6" fill="#4c6ac8"/>
<rect x="69.67" y="79.6" width="3.1" height="6.6" fill="#b0804f"/>
<rect x="69.67" y="70" width="3.1" height="9.6" fill="#9cb45c"/>
<rect x="69.67" y="56.4" width="3.1" height="13.6" fill="#8873bb"/>
<rect x="77.82" y="86.2" width="3.1" height="14.6" fill="#4c6ac8"/>
<rect x="77.82" y="79.6" width="3.1" height="6.6" fill="#b0804f"/>
<rect x="77.82" y="70" width="3.1" height="9.6" fill="#9cb45c"/>
<rect x="77.82" y="56.4" width="3.1" height="13.6" fill="#8873bb"/>
<rect x="85.97" y="86.2" width="3.1" height="14.6" fill="#4c6ac8"/>
<rect x="85.97" y="79.8" width="3.1" height="6.4" fill="#b0804f"/>
<rect x="85.97" y="70.4" width="3.1" height="9.4" fill="#9cb45c"/>
<rect x="85.97" y="57.2" width="3.1" height="13.2" fill="#8873bb"/>
<rect x="94.12" y="86.2" width="3.1" height="14.6" fill="#4c6ac8"/>
<rect x="94.12" y="80" width="3.1" height="6.2" fill="#b0804f"/>
<rect x="94.12" y="71" width="3.1" height="9" fill="#9cb45c"/>
<rect x="94.12" y="58.4" width="3.1" height="12.6" fill="#8873bb"/>
<rect x="102.27" y="86.2" width="3.1" height="14.6" fill="#4c6ac8"/>
<rect x="102.27" y="80" width="3.1" height="6.2" fill="#b0804f"/>
<rect x="102.27" y="71.6" width="3.1" height="8.4" fill="#9cb45c"/>
<rect x="102.27" y="59.2" width="3.1" height="12.4" fill="#8873bb"/>
<rect x="110.41" y="86.2" width="3.1" height="14.6" fill="#4c6ac8"/>
<rect x="110.41" y="80" width="3.1" height="6.2" fill="#b0804f"/>
<rect x="110.41" y="72" width="3.1" height="8" fill="#9cb45c"/>
<rect x="110.41" y="60" width="3.1" height="12" fill="#8873bb"/>
<rect x="118.56" y="86.2" width="3.1" height="14.6" fill="#4c6ac8"/>
<rect x="118.56" y="80" width="3.1" height="6.2" fill="#b0804f"/>
<rect x="118.56" y="72.4" width="3.1" height="7.6" fill="#9cb45c"/>
<rect x="118.56" y="61" width="3.1" height="11.4" fill="#8873bb"/>
<rect x="126.71" y="86.2" width="3.1" height="14.6" fill="#4c6ac8"/>
<rect x="126.71" y="80" width="3.1" height="6.2" fill="#b0804f"/>
<rect x="126.71" y="72" width="3.1" height="8" fill="#9cb45c"/>
<rect x="126.71" y="60" width="3.1" height="12" fill="#8873bb"/>
<rect x="134.86" y="86.2" width="3.1" height="14.6" fill="#4c6ac8"/>
<rect x="134.86" y="79.6" width="3.1" height="6.6" fill="#b0804f"/>
<rect x="134.86" y="70.6" width="3.1" height="9" fill="#9cb45c"/>
<rect x="134.86" y="58.4" width="3.1" height="12.2" fill="#8873bb"/>
<rect x="143.01" y="86.2" width="3.1" height="14.6" fill="#4c6ac8"/>
<rect x="143.01" y="79.2" width="3.1" height="7" fill="#b0804f"/>
<rect x="143.01" y="69.4" width="3.1" height="9.8" fill="#9cb45c"/>
<rect x="143.01" y="55.6" width="3.1" height="13.8" fill="#8873bb"/>
<rect x="151.15" y="86.2" width="3.1" height="14.6" fill="#4c6ac8"/>
<rect x="151.15" y="79" width="3.1" height="7.2" fill="#b0804f"/>
<rect x="151.15" y="68.6" width="3.1" height="10.4" fill="#9cb45c"/>
<rect x="151.15" y="54.4" width="3.1" height="14.2" fill="#8873bb"/>
<rect x="159.3" y="86.2" width="3.1" height="14.6" fill="#4c6ac8"/>
<rect x="159.3" y="78.4" width="3.1" height="7.8" fill="#b0804f"/>
<rect x="159.3" y="67" width="3.1" height="11.4" fill="#9cb45c"/>
<rect x="159.3" y="51" width="3.1" height="16" fill="#8873bb"/>
<rect x="167.45" y="86.2" width="3.1" height="14.6" fill="#4c6ac8"/>
<rect x="167.45" y="78" width="3.1" height="8.2" fill="#b0804f"/>
<rect x="167.45" y="65" width="3.1" height="13" fill="#9cb45c"/>
<rect x="167.45" y="49" width="3.1" height="16" fill="#8873bb"/>
<rect x="175.6" y="86.2" width="3.1" height="14.6" fill="#4c6ac8"/>
<rect x="175.6" y="78" width="3.1" height="8.2" fill="#b0804f"/>
<rect x="175.6" y="64.4" width="3.1" height="13.6" fill="#9cb45c"/>
<rect x="175.6" y="48" width="3.1" height="16.4" fill="#8873bb"/>
<rect x="183.74" y="86.2" width="3.1" height="14.6" fill="#4c6ac8"/>
<rect x="183.74" y="78" width="3.1" height="8.2" fill="#b0804f"/>
<rect x="183.74" y="64.4" width="3.1" height="13.6" fill="#9cb45c"/>
<rect x="183.74" y="48" width="3.1" height="16.4" fill="#8873bb"/>
<rect x="191.89" y="86.2" width="3.1" height="14.6" fill="#4c6ac8"/>
<rect x="191.89" y="78" width="3.1" height="8.2" fill="#b0804f"/>
<rect x="191.89" y="64" width="3.1" height="14" fill="#9cb45c"/>
<rect x="191.89" y="47.2" width="3.1" height="16.8" fill="#8873bb"/>
<rect x="200.04" y="86.2" width="3.1" height="14.6" fill="#4c6ac8"/>
<rect x="200.04" y="78" width="3.1" height="8.2" fill="#b0804f"/>
<rect x="200.04" y="64.4" width="3.1" height="13.6" fill="#9cb45c"/>
<rect x="200.04" y="48" width="3.1" height="16.4" fill="#8873bb"/>
<rect x="208.19" y="86.2" width="3.1" height="14.6" fill="#4c6ac8"/>
<rect x="208.19" y="78" width="3.1" height="8.2" fill="#b0804f"/>
<rect x="208.19" y="64.4" width="3.1" height="13.6" fill="#9cb45c"/>
<rect x="208.19" y="48" width="3.1" height="16.4" fill="#8873bb"/>
<rect x="216.34" y="86.2" width="3.1" height="14.6" fill="#4c6ac8"/>
<rect x="216.34" y="78" width="3.1" height="8.2" fill="#b0804f"/>
<rect x="216.34" y="65.6" width="3.1" height="12.4" fill="#9cb45c"/>
<rect x="216.34" y="49.6" width="3.1" height="16" fill="#8873bb"/>
<rect x="224.48" y="86.2" width="3.1" height="14.6" fill="#4c6ac8"/>
<rect x="224.48" y="78" width="3.1" height="8.2" fill="#b0804f"/>
<rect x="224.48" y="65.6" width="3.1" height="12.4" fill="#9cb45c"/>
<rect x="224.48" y="49.6" width="3.1" height="16" fill="#8873bb"/>
<rect x="232.63" y="86.2" width="3.1" height="14.6" fill="#4c6ac8"/>
<rect x="232.63" y="78" width="3.1" height="8.2" fill="#b0804f"/>
<rect x="232.63" y="65.6" width="3.1" height="12.4" fill="#9cb45c"/>
<rect x="232.63" y="49.6" width="3.1" height="16" fill="#8873bb"/>
<rect x="240.78" y="86.2" width="3.1" height="14.6" fill="#4c6ac8"/>
<rect x="240.78" y="78" width="3.1" height="8.2" fill="#b0804f"/>
<rect x="240.78" y="66" width="3.1" height="12" fill="#9cb45c"/>
<rect x="240.78" y="51" width="3.1" height="15" fill="#8873bb"/>
<rect x="248.93" y="86.2" width="3.1" height="14.6" fill="#4c6ac8"/>
<rect x="248.93" y="78" width="3.1" height="8.2" fill="#b0804f"/>
<rect x="248.93" y="66" width="3.1" height="12" fill="#9cb45c"/>
<rect x="248.93" y="51" width="3.1" height="15" fill="#8873bb"/>
<rect x="257.08" y="86.2" width="3.1" height="14.6" fill="#4c6ac8"/>
<rect x="257.08" y="78" width="3.1" height="8.2" fill="#b0804f"/>
<rect x="257.08" y="67" width="3.1" height="11" fill="#9cb45c"/>
<rect x="257.08" y="53" width="3.1" height="14" fill="#8873bb"/>
<line x1="67.15" y1="34.4" x2="67.15" y2="100.8" stroke="#9c9c9c" stroke-width="1.15"/>
<line x1="64.15" y1="100.8" x2="67.15" y2="100.8" stroke="#9c9c9c" stroke-width="1.15"/>
<line x1="67.15" y1="100.8" x2="262.7" y2="100.8" stroke="#7fbf9a" stroke-width="1.15"/>
<line x1="67.15" y1="85.1" x2="67.15" y2="100.8" stroke="#7fbf9a" stroke-width="1.15"/>
<line x1="67.15" y1="100.8" x2="67.15" y2="103.4" stroke="#8fa89a" stroke-width="1.15"/>
<line x1="75.3" y1="100.8" x2="75.3" y2="103.4" stroke="#8fa89a" stroke-width="1.15"/>
<line x1="83.45" y1="100.8" x2="83.45" y2="103.4" stroke="#8fa89a" stroke-width="1.15"/>
<line x1="91.59" y1="100.8" x2="91.59" y2="103.4" stroke="#8fa89a" stroke-width="1.15"/>
<line x1="99.74" y1="100.8" x2="99.74" y2="103.4" stroke="#8fa89a" stroke-width="1.15"/>
<line x1="107.89" y1="100.8" x2="107.89" y2="103.4" stroke="#8fa89a" stroke-width="1.15"/>
<line x1="116.04" y1="100.8" x2="116.04" y2="103.4" stroke="#8fa89a" stroke-width="1.15"/>
<line x1="124.19" y1="100.8" x2="124.19" y2="103.4" stroke="#8fa89a" stroke-width="1.15"/>
<line x1="132.33" y1="100.8" x2="132.33" y2="103.4" stroke="#8fa89a" stroke-width="1.15"/>
<line x1="140.48" y1="100.8" x2="140.48" y2="103.4" stroke="#8fa89a" stroke-width="1.15"/>
<line x1="148.63" y1="100.8" x2="148.63" y2="103.4" stroke="#8fa89a" stroke-width="1.15"/>
<line x1="156.78" y1="100.8" x2="156.78" y2="103.4" stroke="#8fa89a" stroke-width="1.15"/>
<line x1="164.92" y1="100.8" x2="164.92" y2="103.4" stroke="#8fa89a" stroke-width="1.15"/>
<line x1="173.07" y1="100.8" x2="173.07" y2="103.4" stroke="#8fa89a" stroke-width="1.15"/>
<line x1="181.22" y1="100.8" x2="181.22" y2="103.4" stroke="#8fa89a" stroke-width="1.15"/>
<line x1="189.37" y1="100.8" x2="189.37" y2="103.4" stroke="#8fa89a" stroke-width="1.15"/>
<line x1="197.52" y1="100.8" x2="197.52" y2="103.4" stroke="#8fa89a" stroke-width="1.15"/>
<line x1="205.66" y1="100.8" x2="205.66" y2="103.4" stroke="#8fa89a" stroke-width="1.15"/>
<line x1="213.81" y1="100.8" x2="213.81" y2="103.4" stroke="#8fa89a" stroke-width="1.15"/>
<line x1="221.96" y1="100.8" x2="221.96" y2="103.4" stroke="#8fa89a" stroke-width="1.15"/>
<line x1="230.11" y1="100.8" x2="230.11" y2="103.4" stroke="#8fa89a" stroke-width="1.15"/>
<line x1="238.26" y1="100.8" x2="238.26" y2="103.4" stroke="#8fa89a" stroke-width="1.15"/>
<line x1="246.4" y1="100.8" x2="246.4" y2="103.4" stroke="#8fa89a" stroke-width="1.15"/>
<line x1="254.55" y1="100.8" x2="254.55" y2="103.4" stroke="#8fa89a" stroke-width="1.15"/>
<line x1="262.7" y1="100.8" x2="262.7" y2="103.4" stroke="#8fa89a" stroke-width="1.15"/>
<text x="58.1" y="104.35" font-size="8.3" text-anchor="end" fill="#242424" stroke="#242424" stroke-width="0.28">0</text>
<text x="62" y="87.6" font-size="8.3" text-anchor="end" textLength="35.7" lengthAdjust="spacingAndGlyphs" fill="#242424" stroke="#242424" stroke-width="0.28">2,000,000</text>
<text x="62" y="70.85" font-size="8.3" text-anchor="end" textLength="35.7" lengthAdjust="spacingAndGlyphs" fill="#242424" stroke="#242424" stroke-width="0.28">4,000,000</text>
<text x="62" y="54.1" font-size="8.3" text-anchor="end" textLength="35.7" lengthAdjust="spacingAndGlyphs" fill="#242424" stroke="#242424" stroke-width="0.28">6,000,000</text>
<text x="62" y="37.35" font-size="8.3" text-anchor="end" textLength="35.7" lengthAdjust="spacingAndGlyphs" fill="#242424" stroke="#242424" stroke-width="0.28">8,000,000</text>
<text x="73.32" y="114.3" font-size="8.8" text-anchor="end" textLength="15.2" lengthAdjust="spacingAndGlyphs" transform="rotate(-45 73.32 114.3)" fill="#242424" stroke="#242424" stroke-width="0.28">0:00</text>
<text x="89.62" y="114.3" font-size="8.8" text-anchor="end" textLength="15.2" lengthAdjust="spacingAndGlyphs" transform="rotate(-45 89.62 114.3)" fill="#242424" stroke="#242424" stroke-width="0.28">2:00</text>
<text x="105.92" y="114.3" font-size="8.8" text-anchor="end" textLength="15.2" lengthAdjust="spacingAndGlyphs" transform="rotate(-45 105.92 114.3)" fill="#242424" stroke="#242424" stroke-width="0.28">4:00</text>
<text x="122.21" y="114.3" font-size="8.8" text-anchor="end" textLength="15.2" lengthAdjust="spacingAndGlyphs" transform="rotate(-45 122.21 114.3)" fill="#242424" stroke="#242424" stroke-width="0.28">6:00</text>
<text x="138.51" y="114.3" font-size="8.8" text-anchor="end" textLength="15.2" lengthAdjust="spacingAndGlyphs" transform="rotate(-45 138.51 114.3)" fill="#242424" stroke="#242424" stroke-width="0.28">8:00</text>
<text x="154.8" y="114.3" font-size="8.8" text-anchor="end" textLength="19.5" lengthAdjust="spacingAndGlyphs" transform="rotate(-45 154.8 114.3)" fill="#242424" stroke="#242424" stroke-width="0.28">10:00</text>
<text x="171.1" y="114.3" font-size="8.8" text-anchor="end" textLength="19.5" lengthAdjust="spacingAndGlyphs" transform="rotate(-45 171.1 114.3)" fill="#242424" stroke="#242424" stroke-width="0.28">12:00</text>
<text x="187.39" y="114.3" font-size="8.8" text-anchor="end" textLength="19.5" lengthAdjust="spacingAndGlyphs" transform="rotate(-45 187.39 114.3)" fill="#242424" stroke="#242424" stroke-width="0.28">14:00</text>
<text x="203.69" y="114.3" font-size="8.8" text-anchor="end" textLength="19.5" lengthAdjust="spacingAndGlyphs" transform="rotate(-45 203.69 114.3)" fill="#242424" stroke="#242424" stroke-width="0.28">16:00</text>
<text x="219.99" y="114.3" font-size="8.8" text-anchor="end" textLength="19.5" lengthAdjust="spacingAndGlyphs" transform="rotate(-45 219.99 114.3)" fill="#242424" stroke="#242424" stroke-width="0.28">18:00</text>
<text x="236.28" y="114.3" font-size="8.8" text-anchor="end" textLength="19.5" lengthAdjust="spacingAndGlyphs" transform="rotate(-45 236.28 114.3)" fill="#242424" stroke="#242424" stroke-width="0.28">20:00</text>
<text x="252.58" y="114.3" font-size="8.8" text-anchor="end" textLength="19.5" lengthAdjust="spacingAndGlyphs" transform="rotate(-45 252.58 114.3)" fill="#242424" stroke="#242424" stroke-width="0.28">22:00</text>
<text x="20.5" y="103.2" font-size="8.1" font-weight="bold" textLength="35.7" lengthAdjust="spacingAndGlyphs" transform="rotate(-90 20.5 103.2)" fill="#111" stroke="#111" stroke-width="0.28">Emissions</text>
<text x="20.5" y="63.5" font-size="8.1" font-weight="bold" textLength="26.6" lengthAdjust="spacingAndGlyphs" transform="rotate(-90 20.5 63.5)" fill="#111" stroke="#111" stroke-width="0.28">(kg/hr)</text>
<text x="156.1" y="142.4" font-size="7.8" font-weight="bold" textLength="17.9" lengthAdjust="spacingAndGlyphs" fill="#111" stroke="#111" stroke-width="0.28">Time</text>
<text x="12.9" y="143" font-size="11.2" font-weight="bold" textLength="15" lengthAdjust="spacingAndGlyphs" fill="#000" stroke="#000" stroke-width="0.28">(d)</text>
<rect x="29.9" y="10.55" width="5" height="5.4" fill="#6a6fd0"/>
<text y="16.5" font-size="8.2" fill="#242424" stroke="#242424" stroke-width="0.28"><tspan x="36.8" textLength="26.4" lengthAdjust="spacingAndGlyphs">Natural</tspan> <tspan x="67" textLength="12.5" lengthAdjust="spacingAndGlyphs">Gas</tspan></text>
<rect x="91.7" y="10.55" width="5" height="5.4" fill="#9c8a5c"/>
<text y="16.5" font-size="8.2" fill="#242424" stroke="#242424" stroke-width="0.28"><tspan x="98.7" textLength="13.1" lengthAdjust="spacingAndGlyphs">Gas</tspan> <tspan x="114.7" textLength="9.3" lengthAdjust="spacingAndGlyphs">Oil</tspan></text>
<rect x="136.1" y="10.55" width="5" height="5.4" fill="#a8c860"/>
<text y="16.5" font-size="8.2" fill="#242424" stroke="#242424" stroke-width="0.28"><tspan x="142.9" textLength="20.4" lengthAdjust="spacingAndGlyphs">Crude</tspan> <tspan x="168.2" textLength="9.6" lengthAdjust="spacingAndGlyphs">Oil</tspan></text>
<rect x="188.6" y="10.55" width="5" height="5.4" fill="#8c70c0"/>
<text y="16.5" font-size="8.2" fill="#242424" stroke="#242424" stroke-width="0.28"><tspan x="196.4" textLength="22.7" lengthAdjust="spacingAndGlyphs">Heavy</tspan> <tspan x="222.6" textLength="14.4" lengthAdjust="spacingAndGlyphs">Fuel</tspan> <tspan x="239" textLength="10.2" lengthAdjust="spacingAndGlyphs">Oil</tspan></text>
</g>
</svg>
</body></html>
